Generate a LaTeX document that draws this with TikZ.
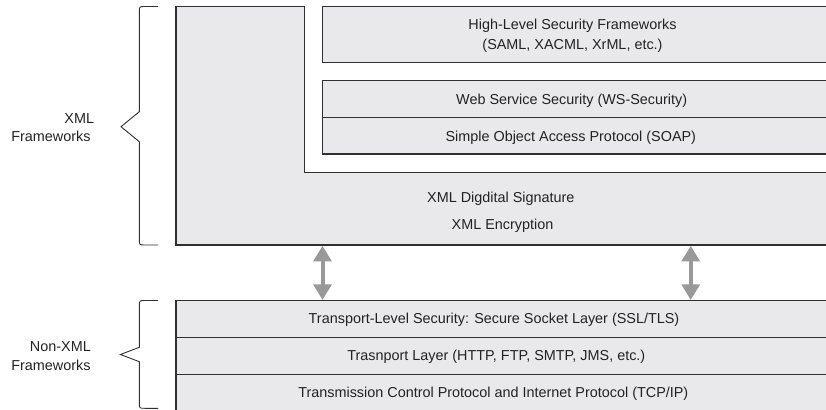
\documentclass[tikz,border=0pt]{standalone}
\usepackage{fontspec}
\setmainfont{Liberation Sans}
\usetikzlibrary{arrows.meta}
\definecolor{boxfill}{HTML}{E9E9EB}
\definecolor{edge}{HTML}{303030}
\definecolor{arrowgray}{HTML}{999999}
\definecolor{txt}{HTML}{222222}
\begin{document}
\begin{tikzpicture}[x=1pt, y=-1pt,
  box/.style={fill=boxfill, draw=edge, line width=1.1pt},
  lbl/.style={font=\fontsize{14.4}{17}\selectfont, text=txt, inner sep=0pt, anchor=base},
  side/.style={lbl, anchor=base east},
  bracket/.style={draw=edge, line width=0.9pt},
  link/.style={draw=arrowgray, line width=4pt,
    {Triangle[width=17.7pt,length=15.6pt]}-{Triangle[width=17.7pt,length=15.6pt]}}]
\clip (0,0) rectangle (826,409);
% XML frameworks block (L-shape)
\path[box] (176,6.7) -- (304.3,6.7) -- (304.3,172.3) -- (840,172.3) -- (840,245) -- (176,245) -- cycle;
\path[box] (322.7,6.7) rectangle (840,62.3);
\path[box] (322.7,80.7) rectangle (840,117.7);
\path[box] (322.7,117.7) rectangle (840,154);
% Non-XML block
\path[box] (176,300.7) rectangle (840,337.7);
\path[box] (176,337.7) rectangle (840,374.3);
\path[box] (176,374.3) rectangle (840,420);
% texts
\node[lbl] (hl1) at (572.5,29.3) {High-Level Security Frameworks};
\node[lbl] (hl2) at (572.5,49.3) {(SAML, XACML, XrML, etc.)};
\node[lbl] (ws) at (571.7,105) {Web Service Security (WS-Security)};
\node[lbl] (soap) at (570.8,141.7) {Simple Object Access Protocol (SOAP)};
\node[lbl] (sig) at (500.8,202.7) {XML Digdital Signature};
\node[lbl] (enc) at (502.5,229.3) {XML Encryption};
\node[lbl] (ssl) at (494,323.3) {Transport-Level Security: Secure Socket Layer (SSL/TLS)};
\node[lbl] (tl) at (496.3,360.7) {Trasnport Layer (HTTP, FTP, SMTP, JMS, etc.)};
\node[lbl] (tcp) at (493.3,397.3) {Transmission Control Protocol and Internet Protocol (TCP/IP)};
\node[side] (x1) at (94.3,123.3) {XML};
\node[side] (x2) at (90.7,141) {Frameworks};
\node[side] (n1) at (91,351.7) {Non-XML};
\node[side] (n2) at (90.7,370) {Frameworks};
% braces
\draw[bracket] (158,6.5) -- (145,6.5) .. controls (139.3,6.5) .. (139.3,12.5)
  -- (139.3,111.7) -- (121,126.7) -- (139.3,141.7) -- (139.3,239)
  .. controls (139.3,245) .. (145,245) -- (158,245);
\draw[bracket] (158,300.5) -- (145,300.5) .. controls (139.3,300.5) .. (139.3,306.5)
  -- (139.3,347.3) -- (120.5,354.5) -- (139.3,361.7) -- (139.3,402.5)
  .. controls (139.3,408.3) .. (145,408.3) -- (158,408.3);
% connectors
\coordinate (xL) at (322.5,245.8);
\coordinate (sL) at (322.5,300);
\coordinate (xR) at (690.7,245.8);
\coordinate (sR) at (690.7,300);
\draw[link] (xL) -- (sL);
\draw[link] (xR) -- (sR);
\end{tikzpicture}
\end{document}
